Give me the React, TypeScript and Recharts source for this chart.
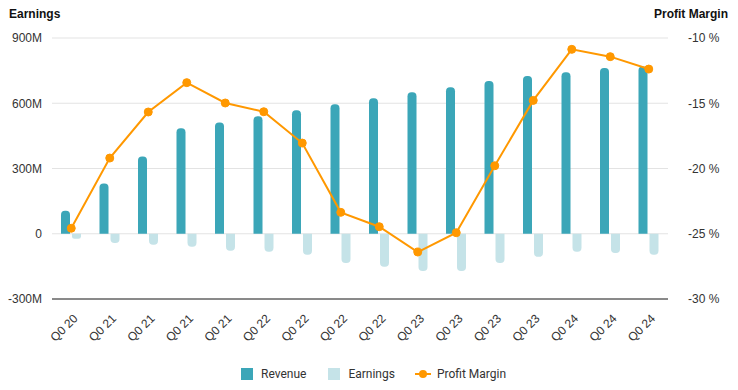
import React from "react";
import { ComposedChart, Bar, Line, XAxis, YAxis, CartesianGrid, Legend } from "recharts";

const quarters = ["Q0 20", "Q0 21", "Q0 21", "Q0 21", "Q0 21", "Q0 22", "Q0 22", "Q0 22", "Q0 22", "Q0 23", "Q0 23", "Q0 23", "Q0 23", "Q0 24", "Q0 24", "Q0 24"];
const revenue = [106, 231, 355, 485, 512, 540, 568, 595, 623, 651, 674, 702, 725, 743, 762, 769];
const earnings = [-23, -42, -51, -60, -78, -83, -97, -134, -152, -171, -171, -134, -106, -83, -88, -97];
const profitMargin = [-24.58, -19.2, -15.67, -13.42, -14.98, -15.65, -18.05, -23.36, -24.46, -26.4, -24.92, -19.79, -14.78, -10.87, -11.43, -12.38];

const leftTicks = [-300e6, 0, 300e6, 600e6, 900e6];
const rightTicks = [-30, -25, -20, -15, -10];

const REV = "#3BA6B8";
const EARN = "#C5E3E8";
const PM = "#FF9800";

const data = quarters.map((q, i) => ({
  quarter: q,
  revenue: revenue[i] * 1e6,
  earnings: earnings[i] * 1e6,
  margin: profitMargin[i],
}));

const tickFont = "'Liberation Sans', Arial, sans-serif";

const XTick = (props: any) => {
  const { x, y, payload } = props;
  return (
    <g transform={`translate(${x + 5},${y + 10})`}>
      <text x={0} y={0} textAnchor="end" dominantBaseline="middle" transform="rotate(-45)" fill="#333" fontSize={12} fontFamily={tickFont}>
        {payload.value}
      </text>
    </g>
  );
};

const LegendContent = () => (
  <div style={{ height: 24, display: "flex", alignItems: "center", paddingLeft: 241, fontFamily: "Roboto, sans-serif", fontSize: 12, color: "#333" }}>
    <span style={{ display: "inline-block", width: 12, height: 12, background: REV }} />
    <span style={{ marginLeft: 8, marginRight: 22 }}>Revenue</span>
    <span style={{ display: "inline-block", width: 12, height: 12, background: EARN }} />
    <span style={{ marginLeft: 8, marginRight: 20 }}>Earnings</span>
    <svg width={16} height={12} style={{ display: "inline-block" }}>
      <line x1={0} y1={6} x2={16} y2={6} stroke={PM} strokeWidth={2} />
      <circle cx={8} cy={6} r={4} fill={PM} />
    </svg>
    <span style={{ marginLeft: 6 }}>Profit Margin</span>
  </div>
);

export default function App() {
  return (
    <div style={{ position: "absolute", left: 0, top: 0, width: 738, height: 390, background: "#fff" }}>
      <div style={{ position: "absolute", left: 9, top: 7, fontFamily: tickFont, fontWeight: "bold", fontSize: 12, color: "#111" }}>Earnings</div>
      <div style={{ position: "absolute", right: 10, top: 7, fontFamily: tickFont, fontWeight: "bold", fontSize: 12, color: "#111" }}>Profit Margin</div>
      <ComposedChart width={738} height={390} data={data} margin={{ top: 38, right: 0, left: 0, bottom: 4 }} barSize={9} barGap={2}>
        <CartesianGrid vertical={false} stroke="#e3e3e3" yAxisId="left" />
        <XAxis dataKey="quarter" height={63} tick={<XTick />} tickLine={false} axisLine={{ stroke: "#222" }} interval={0} />
        <YAxis
          yAxisId="left"
          orientation="left"
          width={52}
          domain={[-300e6, 900e6]}
          ticks={leftTicks}
          tickFormatter={(v: number) => (v === 0 ? "0" : `${v / 1e6}M`)}
          axisLine={false}
          tickLine={false}
          tickSize={6}
          tickMargin={4}
          tick={{ fill: "#333", fontSize: 12, fontFamily: tickFont }}
        />
        <YAxis
          yAxisId="right"
          orientation="right"
          width={70}
          domain={[-30, -10]}
          ticks={rightTicks}
          tickFormatter={(v: number) => `${v} %`}
          axisLine={false}
          tickLine={false}
          tickSize={6}
          tickMargin={14}
          tick={{ fill: "#333", fontSize: 12, fontFamily: tickFont }}
        />
        <Legend verticalAlign="bottom" content={<LegendContent />} wrapperStyle={{ left: 0, width: 738 }} />
        <Bar yAxisId="left" dataKey="revenue" name="Revenue" fill={REV} radius={[4, 4, 0, 0]} isAnimationActive={false} />
        <Bar yAxisId="left" dataKey="earnings" name="Earnings" fill={EARN} radius={[4, 4, 0, 0]} isAnimationActive={false} />
        <Line yAxisId="right" dataKey="margin" name="Profit Margin" stroke={PM} strokeWidth={2} dot={{ r: 4, fill: PM, stroke: PM, strokeWidth: 1 }} isAnimationActive={false} />
      </ComposedChart>
    </div>
  );
}
